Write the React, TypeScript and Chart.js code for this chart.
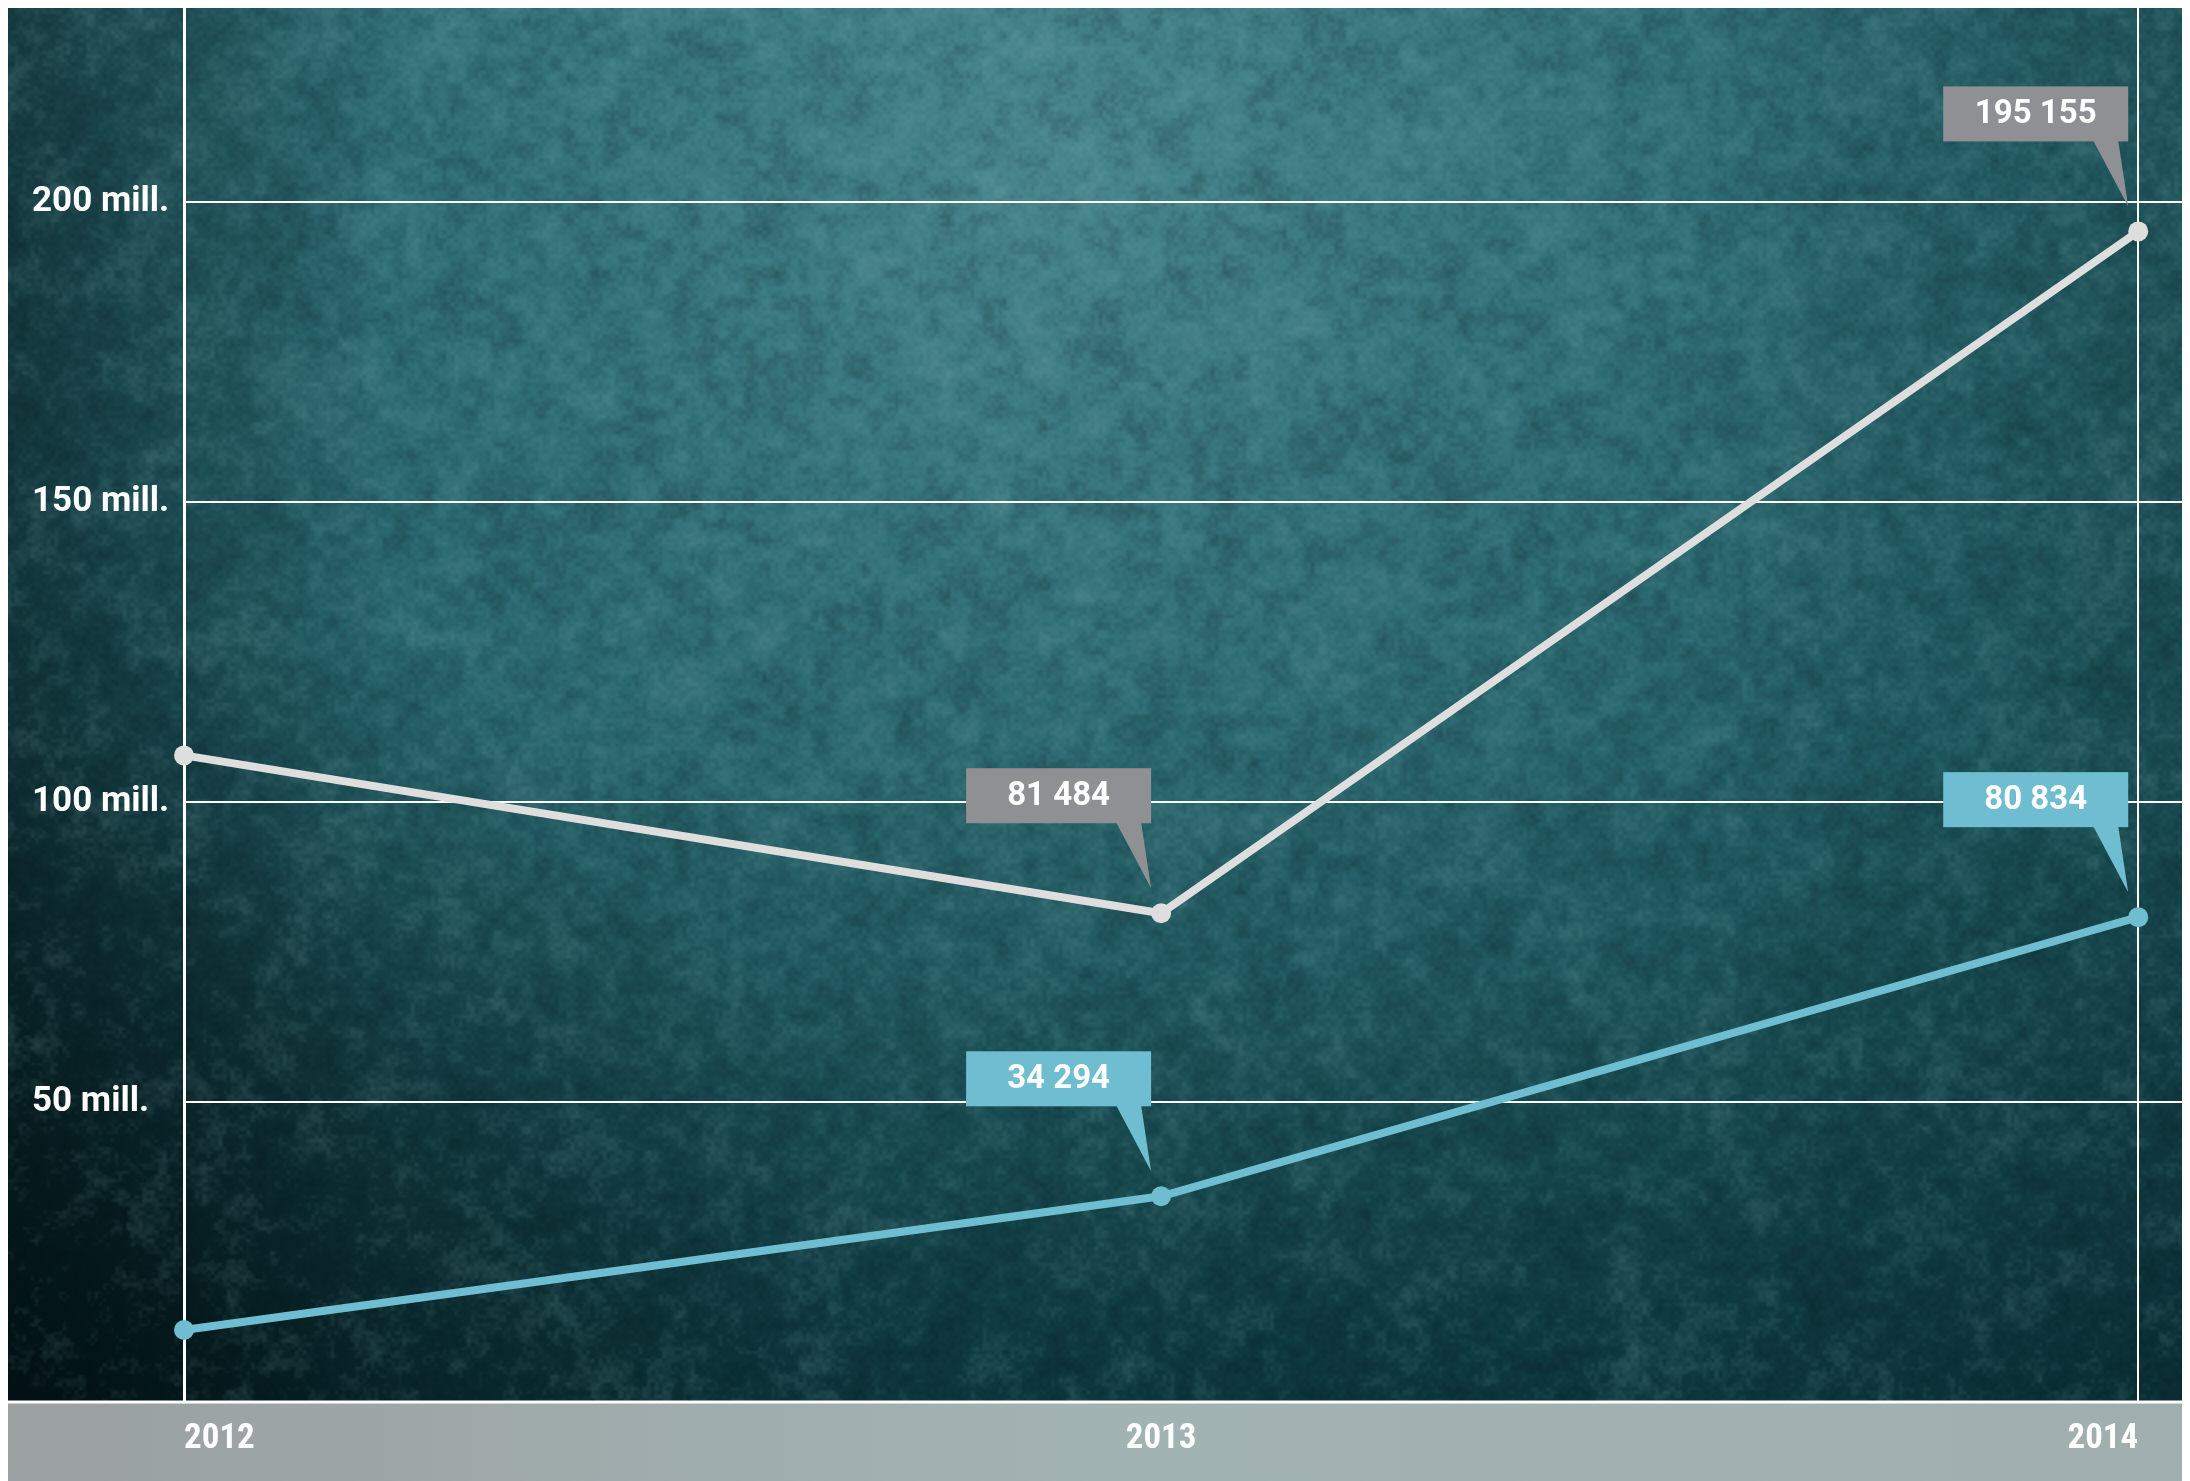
import React, { useEffect, useRef } from "react";
import { Chart, registerables } from "chart.js";

Chart.register(...registerables);

// ---- data (values in thousands) ----
const years = [2012, 2013, 2014];
const seriesGreyValues = [107800, 81484, 195155];
const seriesBlueValues = [12000, 34294, 80834];
const labelledIndexes = [1, 2];
const yTickValues = [50000, 100000, 150000, 200000];
const yTickSuffix = " mill.";

const GREY_LINE = "#dedede";
const GREY_BOX = "#8f9094";
const BLUE = "#6fbdd0";

function fmt(v: number): string {
  return String(Math.round(v)).replace(/\B(?=(\d{3})+(?!\d))/g, " ");
}

// deterministic hash for background texture (not data)
function hash(ix: number, iy: number, seed: number): number {
  let h = (ix * 374761393 + iy * 668265263 + seed * 982451653) | 0;
  h = Math.imul(h ^ (h >>> 13), 1274126177);
  h = h ^ (h >>> 16);
  return ((h >>> 0) % 10000) / 10000;
}
function valueNoise(x: number, y: number, cell: number, seed: number): number {
  const gx = x / cell;
  const gy = y / cell;
  const x0 = Math.floor(gx);
  const y0 = Math.floor(gy);
  const fx = gx - x0;
  const fy = gy - y0;
  const sx = fx * fx * (3 - 2 * fx);
  const sy = fy * fy * (3 - 2 * fy);
  const a = hash(x0, y0, seed);
  const b = hash(x0 + 1, y0, seed);
  const c = hash(x0, y0 + 1, seed);
  const d = hash(x0 + 1, y0 + 1, seed);
  return (a + (b - a) * sx) * (1 - sy) + (c + (d - c) * sx) * sy;
}

let textureCache: HTMLCanvasElement | null = null;
function getTexture(w: number, h: number): HTMLCanvasElement {
  if (textureCache && textureCache.width === w && textureCache.height === h) return textureCache;
  const c = document.createElement("canvas");
  c.width = w;
  c.height = h;
  const cx = c.getContext("2d")!;
  const img = cx.createImageData(w, h);
  const data = img.data;
  for (let y = 0; y < h; y++) {
    for (let x = 0; x < w; x++) {
      const n =
        valueNoise(x, y, 45, 1) * 0.3 +
        valueNoise(x, y, 14, 2) * 0.4 +
        valueNoise(x, y, 4, 3) * 0.3;
      const v = (n - 0.5) * 2; // -1..1
      const i = (y * w + x) * 4;
      if (v > 0) {
        data[i] = 160;
        data[i + 1] = 210;
        data[i + 2] = 212;
        data[i + 3] = Math.min(255, v * 50);
      } else {
        data[i] = 0;
        data[i + 1] = 15;
        data[i + 2] = 18;
        data[i + 3] = Math.min(255, -v * 75);
      }
    }
  }
  cx.putImageData(img, 0, 0);
  textureCache = c;
  return c;
}

const backgroundPlugin = {
  id: "bg",
  beforeDraw(chart: any) {
    const { ctx, width, height, chartArea } = chart;
    ctx.save();
    const g = ctx.createLinearGradient(0, 0, 0, height);
    g.addColorStop(0, "#2a686f");
    g.addColorStop(0.5, "#225e65");
    g.addColorStop(1, "#0b3238");
    ctx.fillStyle = g;
    ctx.fillRect(0, 0, width, height);
    const r = ctx.createRadialGradient(1050, 150, 0, 1050, 150, 1200);
    r.addColorStop(0, "rgba(110,170,175,0.45)");
    r.addColorStop(0.5, "rgba(90,150,158,0.2)");
    r.addColorStop(1, "rgba(60,120,128,0)");
    ctx.fillStyle = r;
    ctx.fillRect(0, 0, width, height);
    const l = ctx.createLinearGradient(0, 0, 380, 0);
    l.addColorStop(0, "rgba(0,12,15,0.5)");
    l.addColorStop(1, "rgba(0,12,15,0)");
    ctx.fillStyle = l;
    ctx.fillRect(0, 0, width, height);
    const d = ctx.createRadialGradient(0, height, 0, 0, height, 900);
    d.addColorStop(0, "rgba(0,8,10,0.7)");
    d.addColorStop(1, "rgba(0,8,10,0)");
    ctx.fillStyle = d;
    ctx.fillRect(0, 0, width, height);
    const rr = ctx.createLinearGradient(width - 500, 0, width, 0);
    rr.addColorStop(0, "rgba(0,20,25,0)");
    rr.addColorStop(1, "rgba(0,20,25,0.25)");
    ctx.fillStyle = rr;
    ctx.fillRect(0, 0, width, height);
    ctx.drawImage(getTexture(width, height), 0, 0);
    const b = ctx.createLinearGradient(0, 0, width, 0);
    b.addColorStop(0, "#9ba0a1");
    b.addColorStop(0.5, "#a2b3b4");
    b.addColorStop(1, "#a0aeaf");
    ctx.fillStyle = b;
    ctx.fillRect(0, chartArea.bottom, width, height - chartArea.bottom);
    ctx.restore();
  },
  afterDraw(chart: any) {
    const { ctx, width, chartArea } = chart;
    ctx.save();
    ctx.strokeStyle = "#ffffff";
    ctx.lineWidth = 3;
    ctx.beginPath();
    ctx.moveTo(0, chartArea.bottom);
    ctx.lineTo(width, chartArea.bottom);
    ctx.stroke();
    ctx.restore();
  },
};

const calloutPlugin = {
  id: "callouts",
  afterDatasetsDraw(chart: any) {
    const { ctx } = chart;
    const colors = [GREY_BOX, BLUE];
    ctx.save();
    chart.data.datasets.forEach((ds: any, di: number) => {
      const meta = chart.getDatasetMeta(di);
      labelledIndexes.forEach((i) => {
        const el = meta.data[i];
        if (!el) return;
        const px = el.x;
        const py = el.y;
        const w = 185;
        const h = 55;
        const right = px - 10;
        const left = right - w;
        const bottom = py - 90;
        const top = bottom - h;
        ctx.fillStyle = colors[di];
        ctx.fillRect(left, top, w, h);
        ctx.beginPath();
        ctx.moveTo(right - 35, bottom - 1);
        ctx.lineTo(right - 10, bottom - 1);
        ctx.lineTo(right, py - 25);
        ctx.closePath();
        ctx.fill();
        ctx.fillStyle = "#ffffff";
        ctx.font = "bold 33px Roboto, 'Liberation Sans', sans-serif";
        ctx.textAlign = "center";
        ctx.textBaseline = "middle";
        ctx.fillText(fmt(ds.data[i].y), left + w / 2, top + h / 2 + 1);
      });
    });
    ctx.restore();
  },
};

export default function App() {
  const ref = useRef<HTMLCanvasElement | null>(null);

  useEffect(() => {
    document.documentElement.style.overflow = "hidden";
    document.body.style.overflow = "hidden";
    const canvas = ref.current;
    if (!canvas) return;
    const mkDataset = (label: string, values: number[], color: string) => ({
      label,
      data: years.map((x, i) => ({ x, y: values[i] })),
      borderColor: color,
      backgroundColor: color,
      pointBackgroundColor: color,
      borderWidth: 8,
      pointRadius: 10,
      pointBorderWidth: 0,
      tension: 0,
      clip: false as any,
    });
    const chart = new Chart(canvas, {
      type: "line",
      data: {
        datasets: [
          mkDataset("A", seriesGreyValues, GREY_LINE),
          mkDataset("B", seriesBlueValues, BLUE),
        ],
      },
      options: {
        responsive: false,
        animation: false,
        devicePixelRatio: 1,
        layout: { autoPadding: false, padding: { left: 24, top: 0, right: 0, bottom: 0 } },
        plugins: {
          legend: { display: false },
          tooltip: { enabled: false },
        },
        scales: {
          x: {
            type: "linear",
            min: years[0],
            max: years[years.length - 1] + 0.053,
            afterFit: (s: any) => {
              s.height = 79;
              s.paddingLeft = 0;
              s.paddingRight = 0;
            },
            afterBuildTicks: (s: any) => {
              s.ticks = years.map((v) => ({ value: v }));
            },
            ticks: {
              stepSize: 1,
              includeBounds: false,
              align: "inner",
              padding: 16,
              color: "#ffffff",
              font: { family: "'Liberation Sans Narrow', 'Roboto Condensed', 'Liberation Sans', sans-serif", weight: "bold", size: 35 },
              callback: (v: any) => String(v),
            },
            grid: {
              drawTicks: false,
              lineWidth: 2,
              color: (c: any) =>
                c.tick && c.tick.value === years[years.length - 1] ? "#ffffff" : "rgba(0,0,0,0)",
            },
            border: { display: false },
          },
          y: {
            type: "linear",
            min: 0,
            max: 232400,
            afterFit: (s: any) => {
              s.width = 152;
              s.paddingTop = 0;
              s.paddingBottom = 0;
            },
            afterBuildTicks: (s: any) => {
              s.ticks = [0, ...yTickValues].map((v) => ({ value: v }));
            },
            ticks: {
              stepSize: 50000,
              includeBounds: false,
              crossAlign: "far",
              color: "#ffffff",
              font: { family: "Roboto, 'Liberation Sans', sans-serif", weight: "bold", size: 35 },
              callback: (v: any) => (v === 0 ? "" : Number(v) / 1000 + yTickSuffix),
            },
            grid: { drawTicks: false, color: "#ffffff", lineWidth: 2 },
            border: { display: true, color: "#ffffff", width: 3 },
          },
        },
      },
      plugins: [backgroundPlugin, calloutPlugin],
    } as any);
    return () => chart.destroy();
  }, []);

  return (
    <canvas
      ref={ref}
      width={2182}
      height={1473}
      style={{ display: "block", width: 2182, height: 1473 }}
    />
  );
}
